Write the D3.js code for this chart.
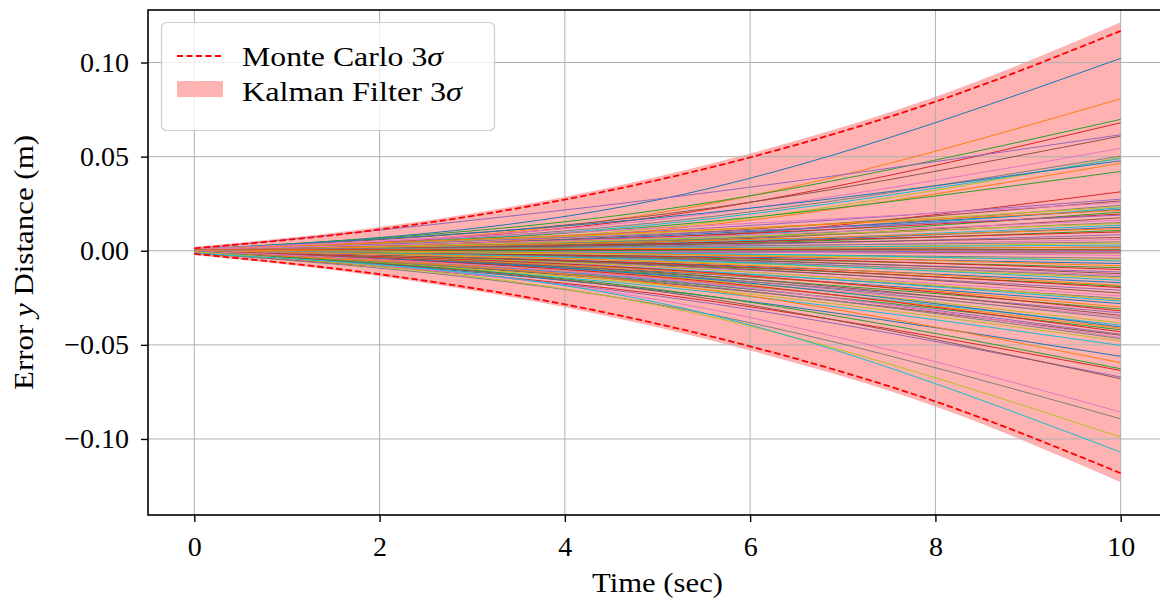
<!DOCTYPE html>
<html>
<head>
<meta charset="utf-8">
<script src="https://cdn.jsdelivr.net/npm/d3@7"></script>
<style>
  body { margin: 0; background: #fff; }
  svg { display: block; font-family: "Liberation Serif", "DejaVu Serif", serif; }
</style>
</head>
<body>
<svg width="1160" height="600"></svg>
<script>
// 3-sigma envelopes, read at even seconds
const sigmaTimes = [0, 2, 4, 6, 8, 10];
const mcUpper = [0.0013, 0.0113, 0.0272, 0.0496, 0.0792, 0.1168];
const mcLower = [-0.0017, -0.0125, -0.0285, -0.0508, -0.0801, -0.1182];
const kfUpper = [0.0020, 0.0126, 0.0287, 0.0517, 0.0818, 0.1214];
const kfLower = [-0.0022, -0.0136, -0.0300, -0.0530, -0.0827, -0.1230];

// monte carlo runs: error at t = 0, 5, 10 s
const runTimes = [0, 5, 10];
const runs = [
    [0.0005, 0.0270, 0.1022], [0.0002, 0.0200, 0.0807], [0.0008, 0.0215, 0.0698], [-0.0003, 0.0180, 0.0680],
    [0.0010, 0.0275, 0.0616], [0.0004, 0.0190, 0.0609], [0.0006, 0.0165, 0.0544], [-0.0002, 0.0150, 0.0503],
    [0.0003, 0.0120, 0.0495], [0.0001, 0.0140, 0.0490], [0.0007, 0.0175, 0.0478], [-0.0004, 0.0110, 0.0465],
    [0.0002, 0.0130, 0.0421], [-0.0006, 0.0060, 0.0313], [0.0004, 0.0105, 0.0274], [0.0000, 0.0085, 0.0265],
    [0.0009, 0.0120, 0.0256], [-0.0003, 0.0070, 0.0242], [0.0005, 0.0095, 0.0233], [0.0001, 0.0060, 0.0228],
    [-0.0008, 0.0078, 0.0219], [0.0006, 0.0100, 0.0215], [-0.0002, 0.0050, 0.0205], [0.0003, 0.0072, 0.0195],
    [0.0000, 0.0088, 0.0189], [-0.0005, 0.0045, 0.0175], [0.0008, 0.0068, 0.0162], [0.0002, 0.0055, 0.0150],
    [-0.0001, 0.0062, 0.0145], [0.0004, 0.0040, 0.0136], [-0.0007, 0.0035, 0.0125], [0.0003, 0.0048, 0.0118],
    [0.0001, 0.0030, 0.0108], [-0.0004, 0.0038, 0.0100], [0.0006, 0.0025, 0.0085], [-0.0002, 0.0032, 0.0070],
    [0.0000, 0.0018, 0.0060], [0.0005, 0.0022, 0.0047], [-0.0006, 0.0010, 0.0040], [0.0002, 0.0015, 0.0030],
    [-0.0003, 0.0005, 0.0020], [0.0004, 0.0012, 0.0018], [-0.0001, 0.0002, 0.0008], [0.0003, 0.0006, 0.0003],
    [-0.0005, -0.0004, -0.0005], [0.0001, -0.0008, -0.0012], [-0.0009, -0.0006, -0.0025], [0.0002, -0.0015, -0.0040],
    [-0.0004, -0.0020, -0.0050], [0.0000, -0.0012, -0.0055], [-0.0007, -0.0028, -0.0068], [0.0003, -0.0018, -0.0080],
    [-0.0002, -0.0035, -0.0090], [-0.0010, -0.0030, -0.0100], [0.0001, -0.0042, -0.0113], [-0.0005, -0.0038, -0.0122],
    [-0.0003, -0.0050, -0.0130], [0.0002, -0.0045, -0.0138], [-0.0008, -0.0055, -0.0145], [-0.0001, -0.0048, -0.0157],
    [-0.0006, -0.0065, -0.0170], [0.0001, -0.0058, -0.0184], [-0.0004, -0.0072, -0.0190], [-0.0011, -0.0068, -0.0196],
    [-0.0002, -0.0080, -0.0210], [-0.0007, -0.0075, -0.0225], [0.0000, -0.0088, -0.0240], [-0.0005, -0.0100, -0.0254],
    [-0.0009, -0.0085, -0.0262], [-0.0003, -0.0095, -0.0268], [-0.0012, -0.0110, -0.0281], [-0.0001, -0.0105, -0.0299],
    [-0.0006, -0.0120, -0.0310], [-0.0004, -0.0098, -0.0320], [-0.0010, -0.0130, -0.0330], [-0.0002, -0.0115, -0.0343],
    [-0.0008, -0.0140, -0.0350], [-0.0005, -0.0125, -0.0360], [-0.0013, -0.0135, -0.0384], [-0.0003, -0.0150, -0.0395],
    [-0.0007, -0.0128, -0.0405], [-0.0001, -0.0145, -0.0412], [-0.0011, -0.0160, -0.0420], [-0.0004, -0.0138, -0.0431],
    [-0.0009, -0.0155, -0.0444], [-0.0006, -0.0170, -0.0449], [-0.0002, -0.0148, -0.0461], [-0.0012, -0.0165, -0.0467],
    [-0.0005, -0.0180, -0.0479], [-0.0008, -0.0190, -0.0503], [-0.0003, -0.0210, -0.0561], [-0.0010, -0.0175, -0.0595],
    [-0.0006, -0.0205, -0.0627], [-0.0013, -0.0230, -0.0636], [-0.0004, -0.0240, -0.0671], [-0.0009, -0.0215, -0.0680],
    [-0.0007, -0.0260, -0.0857], [-0.0011, -0.0285, -0.0893], [-0.0005, -0.0290, -0.0990], [-0.0014, -0.0275, -0.1070]
];

const xTicks = [0, 2, 4, 6, 8, 10];
const yTicks = [-0.10, -0.05, 0.00, 0.05, 0.10];
const yTickLabels = ["\u22120.10", "\u22120.05", "0.00", "0.05", "0.10"];

const svg = d3.select("svg");
const mLeft = 148, mRight = 1167, mTop = 10, mBottom = 515;

const x = d3.scaleLinear().domain([-0.5, 10.5]).range([mLeft, mRight]);
const y = d3.scaleLinear().domain([-0.1404, 0.1279]).range([mBottom, mTop]);
const color = d3.scaleOrdinal(d3.schemeCategory10);

// kalman band
const band = sigmaTimes.map((t, i) => ({ t, lo: kfLower[i], hi: kfUpper[i] }));
svg.append("path")
    .datum(band)
    .attr("fill", "#ffb2b2")
    .attr("d", d3.area()
        .curve(d3.curveMonotoneX)
        .x((d) => x(d.t))
        .y0((d) => y(d.lo))
        .y1((d) => y(d.hi)));

// grid
svg.append("g")
    .selectAll("line")
    .data(xTicks)
    .enter()
    .append("line")
    .attr("x1", (d) => x(d)).attr("x2", (d) => x(d))
    .attr("y1", mTop).attr("y2", mBottom)
    .attr("stroke", "#b0b0b0").attr("stroke-width", 1);

svg.append("g")
    .selectAll("line")
    .data(yTicks)
    .enter()
    .append("line")
    .attr("x1", mLeft).attr("x2", mRight)
    .attr("y1", (d) => y(d)).attr("y2", (d) => y(d))
    .attr("stroke", "#b0b0b0").attr("stroke-width", 1);

// runs
const runLine = d3.line()
    .curve(d3.curveMonotoneX)
    .x((d, i) => x(runTimes[i]))
    .y((d) => y(d));

svg.append("g")
    .selectAll("path")
    .data(runs)
    .enter()
    .append("path")
    .attr("fill", "none")
    .attr("stroke", (d, i) => color(i % 10))
    .attr("stroke-width", 1)
    .attr("d", runLine);

// monte carlo 3 sigma
const sigLine = d3.line()
    .curve(d3.curveMonotoneX)
    .x((d, i) => x(sigmaTimes[i]))
    .y((d) => y(d));

[mcUpper, mcLower].forEach((s) => {
    svg.append("path")
        .datum(s)
        .attr("fill", "none")
        .attr("stroke", "red")
        .attr("stroke-width", 1.8)
        .attr("stroke-dasharray", "6.5,3")
        .attr("d", sigLine);
});

// frame
svg.append("rect")
    .attr("x", mLeft).attr("y", mTop)
    .attr("width", mRight - mLeft).attr("height", mBottom - mTop)
    .attr("fill", "none").attr("stroke", "#000").attr("stroke-width", 1.6);

// axes
const xAxis = svg.append("g")
    .attr("transform", `translate(0,${mBottom})`)
    .call(d3.axisBottom(x).tickValues(xTicks).tickSize(7).tickSizeOuter(0).tickPadding(14));

const yAxis = svg.append("g")
    .attr("transform", `translate(${mLeft},0)`)
    .call(d3.axisLeft(y).tickValues(yTicks).tickSize(7).tickSizeOuter(0).tickPadding(12)
        .tickFormat((d, i) => yTickLabels[i]));

[xAxis, yAxis].forEach((a) => {
    a.select(".domain").remove();
    a.selectAll(".tick line").attr("stroke", "#000").attr("stroke-width", 1.4);
    a.selectAll(".tick text")
        .attr("fill", "#000")
        .style("font-family", "Liberation Serif, serif")
        .style("font-size", "28px");
});

// labels
svg.append("text")
    .attr("x", (mLeft + mRight) / 2)
    .attr("y", 592)
    .attr("text-anchor", "middle")
    .attr("textLength", 131)
    .attr("lengthAdjust", "spacingAndGlyphs")
    .style("font-size", "28px")
    .text("Time (sec)");

const yl = svg.append("text")
    .attr("transform", `translate(33,${(mTop + mBottom) / 2}) rotate(-90)`)
    .attr("text-anchor", "middle")
    .attr("textLength", 255)
    .attr("lengthAdjust", "spacingAndGlyphs")
    .style("font-size", "28px");
yl.append("tspan").text("Error ");
yl.append("tspan").style("font-style", "italic").text("y");
yl.append("tspan").text(" Distance (m)");

// legend
const lg = svg.append("g");
lg.append("rect")
    .attr("x", 161.5).attr("y", 22.5)
    .attr("width", 333).attr("height", 108)
    .attr("rx", 5)
    .attr("fill", "#fff").attr("fill-opacity", 0.8)
    .attr("stroke", "#cccccc").attr("stroke-width", 1.2);

lg.append("line")
    .attr("x1", 177).attr("x2", 223)
    .attr("y1", 56).attr("y2", 56)
    .attr("stroke", "red").attr("stroke-width", 1.8)
    .attr("stroke-dasharray", "6,3.5");

lg.append("rect")
    .attr("x", 177).attr("y", 81)
    .attr("width", 46).attr("height", 16)
    .attr("fill", "#ffb2b2");

const legendItems = [["Monte Carlo 3", 66, 201], ["Kalman Filter 3", 101, 220]];
legendItems.forEach(([label, yy, w]) => {
    const t = lg.append("text")
        .attr("x", 242).attr("y", yy)
        .attr("textLength", w)
        .attr("lengthAdjust", "spacingAndGlyphs")
        .style("font-size", "28px");
    t.append("tspan").text(label);
    t.append("tspan").style("font-style", "italic").text("σ");
});
</script>
</body>
</html>
